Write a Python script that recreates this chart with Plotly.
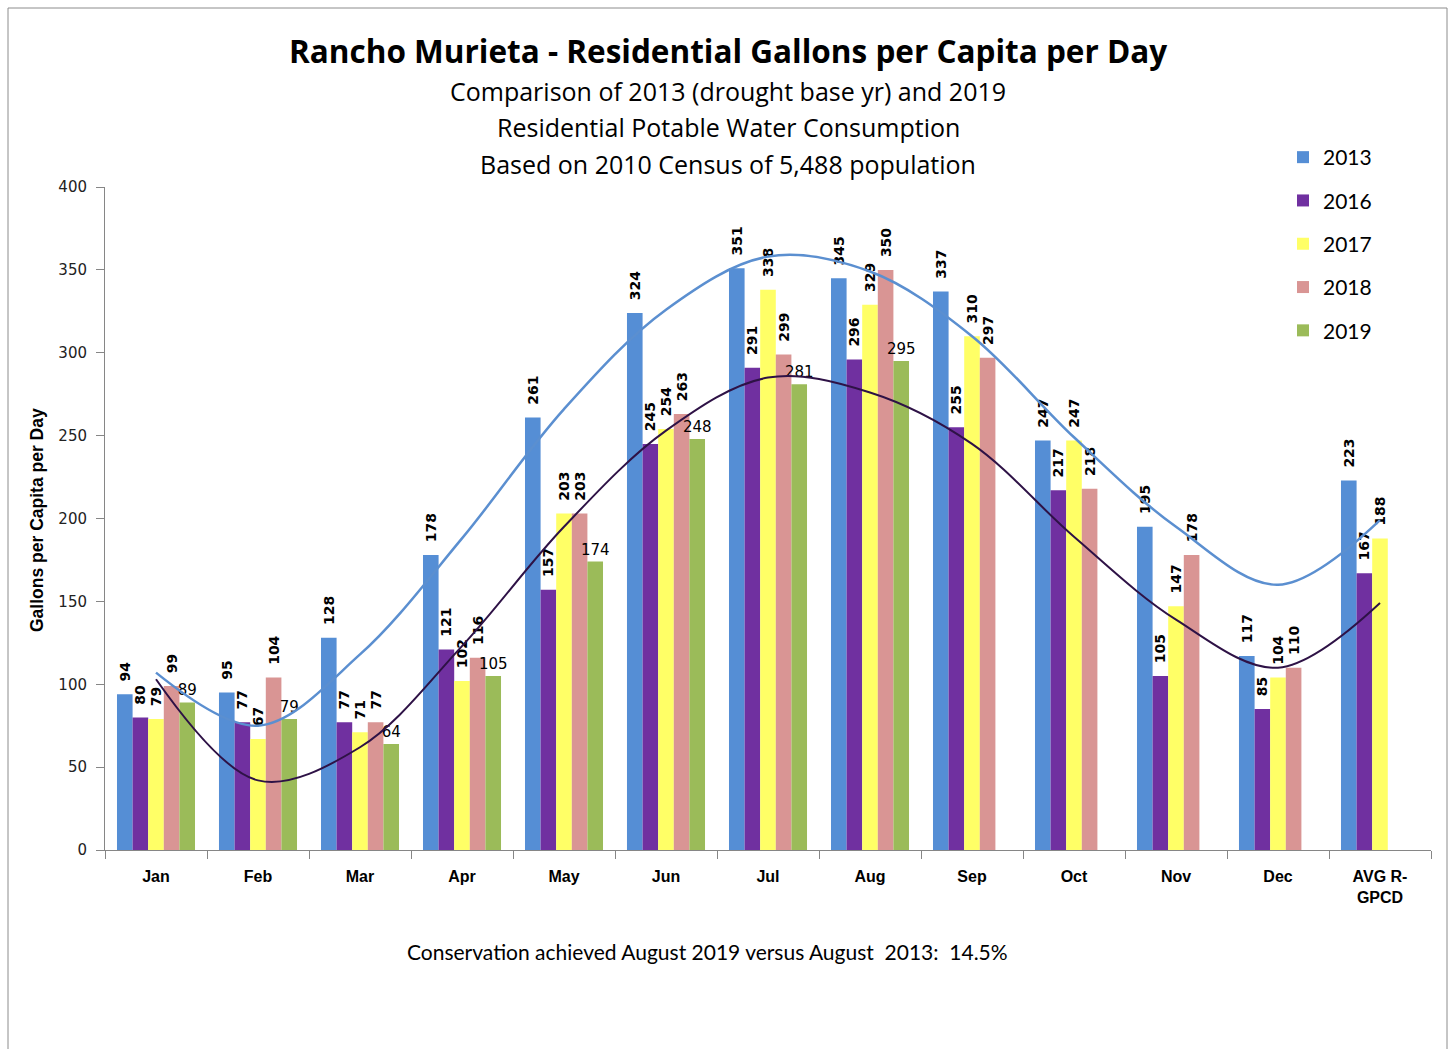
import plotly.graph_objects as go

categories = ["Jan", "Feb", "Mar", "Apr", "May", "Jun", "Jul", "Aug", "Sep", "Oct", "Nov", "Dec", "AVG R-<br>GPCD"]
years = ["2013", "2016", "2017", "2018", "2019"]
gpcd_2013 = [94, 95, 128, 178, 261, 324, 351, 345, 337, 247, 195, 117, 223]
gpcd_2016 = [80, 77, 77, 121, 157, 245, 291, 296, 255, 217, 105, 85, 167]
gpcd_2017 = [79, 67, 71, 102, 203, 254, 338, 329, 310, 247, 147, 104, 188]
gpcd_2018 = [99, 104, 77, 116, 203, 263, 299, 350, 297, 218, 178, 110, None]
gpcd_2019 = [89, 79, 64, 105, 174, 248, 281, 295, None, None, None, None, None]
# trendline values at each category
trend_2013 = [107, 75, 118, 188, 266, 326, 358, 349, 310, 249, 195, 160, 199]
trend_2016 = [103, 42, 62, 123, 195, 253, 285, 276, 245, 189, 139, 110, 149]

title = "Rancho Murieta - Residential Gallons per Capita per Day"
subtitles = ["Comparison of 2013 (drought base yr) and 2019",
             "Residential Potable Water Consumption",
             "Based on 2010 Census of 5,488 population"]
footnote = "Conservation achieved August 2019 versus August\u00a0\u00a02013:\u00a0\u00a014.5%"
y_title = "Gallons per Capita per Day"

series = [gpcd_2013, gpcd_2016, gpcd_2017, gpcd_2018, gpcd_2019]
colors = ["#558ED5", "#7030A0", "#FFFF66", "#D99594", "#9BBB59"]

W, H = 1450, 1049
L, R, T, B = 105, 19, 187, 199
pw, ph = W - L - R, H - T - B

def px_x(x):
    return (x - L) / pw

def px_y(y):
    return (H - B - y) / ph

fig = go.Figure()
for i, (name, vals, col) in enumerate(zip(years, series, colors)):
    horizontal = (name == "2019")
    if horizontal:
        labels = ["" if v is None else str(v) for v in vals]
    else:
        labels = ["" if v is None else "\u00a0\u00a0" + str(v) for v in vals]
    fig.add_trace(go.Bar(
        x=categories, y=vals, name=name, marker=dict(color=col, line=dict(width=0)),
        text=labels, textposition="outside",
        textangle=0 if horizontal else -90,
        textfont=dict(family="DejaVu Sans", size=15 if horizontal else 14,
                      color="#000000", weight="normal" if horizontal else "bold"),
        constraintext="none", cliponaxis=False, legendgroup=name,
    ))

fig.add_trace(go.Scatter(x=categories, y=trend_2013, mode="lines", showlegend=False,
                         line=dict(color="#5B8FD0", width=2.5, shape="spline", smoothing=1.0),
                         hoverinfo="skip"))
fig.add_trace(go.Scatter(x=categories, y=trend_2016, mode="lines", showlegend=False,
                         line=dict(color="#2E1246", width=2, shape="spline", smoothing=1.0),
                         hoverinfo="skip"))

annotations = [
    dict(text="<b>" + title + "</b>", x=px_x(728), y=px_y(50), xref="paper", yref="paper",
         showarrow=False, xanchor="center", yanchor="middle",
         font=dict(family="Open Sans", size=31.5, color="#000000")),
]
for yy, s in zip([91, 127, 164], subtitles):
    annotations.append(dict(text=s, x=px_x(728), y=px_y(yy), xref="paper", yref="paper",
                            showarrow=False, xanchor="center", yanchor="middle",
                            font=dict(family="Open Sans", size=25, color="#000000")))
annotations.append(dict(text=footnote, x=px_x(707), y=px_y(952), xref="paper", yref="paper",
                        showarrow=False, xanchor="center", yanchor="middle",
                        font=dict(family="Lato", size=21, color="#000000")))
annotations.append(dict(text="<b>" + y_title + "</b>", x=px_x(37), y=px_y(520), xref="paper",
                        yref="paper", showarrow=False, xanchor="center", yanchor="middle",
                        textangle=-90,
                        font=dict(family="Liberation Sans", size=17.5, color="#000000")))

fig.update_layout(
    width=W, height=H, margin=dict(l=L, r=R, t=T, b=B, autoexpand=False),
    paper_bgcolor="white", plot_bgcolor="white",
    barmode="group", bargap=0.235, bargroupgap=0,
    annotations=annotations,
    legend=dict(x=px_x(1283), y=px_y(137), xanchor="left", yanchor="top",
                font=dict(family="Lato", size=21, color="#000000"),
                tracegroupgap=13, bgcolor="rgba(0,0,0,0)", itemwidth=30),
    shapes=[dict(type="rect", xref="paper", yref="paper", x0=px_x(8), x1=px_x(1447),
                 y0=px_y(1060), y1=px_y(8), line=dict(color="#8c8c8c", width=1),
                 fillcolor="rgba(0,0,0,0)", layer="below")],
    showlegend=True,
)
fig.update_xaxes(type="category", showline=True, linecolor="#868686", linewidth=1,
                 ticks="outside", tickson="boundaries", ticklen=8, tickcolor="#868686",
                 showgrid=False, zeroline=False, ticklabelstandoff=12,
                 tickfont=dict(family="Liberation Sans", size=16,
                               color="#000000", weight="bold"))
fig.update_yaxes(range=[0, 400], dtick=50, showline=True, linecolor="#868686", linewidth=1,
                 ticks="outside", ticklen=8, tickcolor="#868686", showgrid=False,
                 zeroline=False, ticklabelstandoff=6,
                 tickfont=dict(family="DejaVu Sans", size=15, color="#222222"))

fig.write_html("out.html", config={"displayModeBar": False},
               post_script="document.body.style.margin='0';document.body.style.overflow='hidden';")
